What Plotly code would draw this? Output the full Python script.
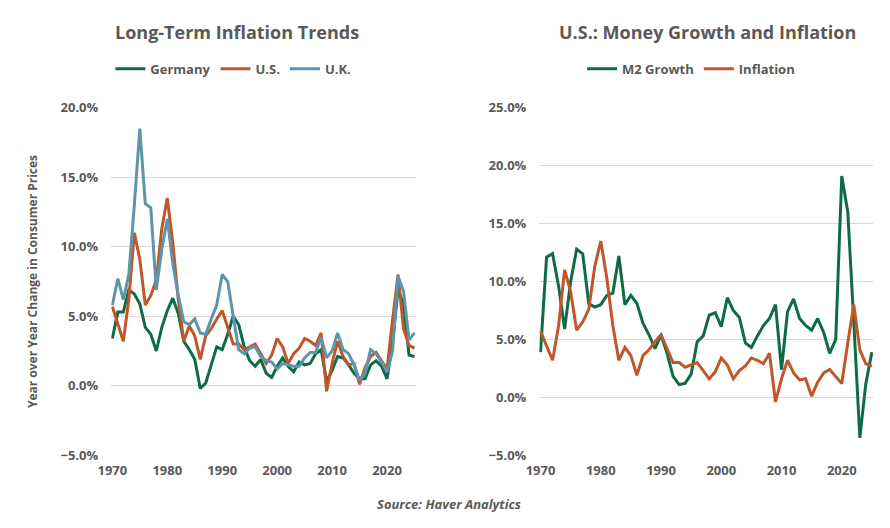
import plotly.graph_objects as go

years = list(range(1970, 2026))
germany = [3.4,5.3,5.3,6.9,6.6,5.9,4.2,3.7,2.5,4.2,5.4,6.3,5.2,3.2,2.6,1.9,-0.2,0.2,1.5,2.8,2.6,3.7,5.0,4.4,2.8,1.8,1.4,1.9,0.9,0.6,1.4,2.0,1.4,1.0,1.7,1.5,1.6,2.3,2.6,0.3,1.1,2.1,2.0,1.5,0.9,0.5,0.5,1.5,1.8,1.4,0.5,3.1,6.9,5.9,2.2,2.1]
us = [5.7,4.4,3.2,6.2,11.0,9.1,5.8,6.5,7.6,11.3,13.5,10.3,6.2,3.2,4.3,3.6,1.9,3.6,4.1,4.8,5.4,4.2,3.0,3.0,2.6,2.8,3.0,2.3,1.6,2.2,3.4,2.8,1.6,2.3,2.7,3.4,3.2,2.9,3.8,-0.4,1.6,3.2,2.1,1.5,1.6,0.1,1.3,2.1,2.4,1.8,1.2,4.7,8.0,4.1,2.9,2.7]
uk = [5.8,7.7,6.2,8.0,13.0,18.5,13.1,12.8,6.9,9.8,12.0,8.8,6.5,4.6,4.4,4.8,3.8,3.7,4.8,5.8,8.0,7.5,5.0,2.6,2.3,2.7,2.8,2.1,1.8,1.7,1.2,1.6,1.5,1.4,1.4,2.0,2.4,2.4,3.5,2.0,2.5,3.8,2.6,2.3,1.5,0.4,0.9,2.6,2.3,1.7,1.0,2.5,7.9,6.8,3.3,3.8]
m2 = [3.9,12.1,12.4,9.6,5.9,10.0,12.8,12.4,8.1,7.8,8.0,8.8,9.0,12.2,8.0,8.8,8.1,6.4,5.4,4.2,5.4,3.8,1.8,1.1,1.2,2.0,4.8,5.3,7.1,7.3,6.1,8.6,7.5,6.9,4.7,4.3,5.3,6.2,6.8,8.0,2.4,7.4,8.5,6.8,6.2,5.8,6.8,5.6,3.8,5.0,19.1,16.0,6.5,-3.5,1.2,3.9]

GREEN, ORANGE, BLUE = "#0f6b46", "#c0562a", "#5f95aa"
TXT = "#595959"
FONT = "Open Sans"

fig = go.Figure()
fig.add_trace(go.Scatter(x=years, y=[v/100 for v in germany], name="Germany", line=dict(color=GREEN, width=3), legend="legend"))
fig.add_trace(go.Scatter(x=years, y=[v/100 for v in us], name="U.S.", line=dict(color=ORANGE, width=3), legend="legend"))
fig.add_trace(go.Scatter(x=years, y=[v/100 for v in uk], name="U.K.", line=dict(color=BLUE, width=3), legend="legend"))
fig.add_trace(go.Scatter(x=years, y=[v/100 for v in m2], name="M2 Growth", line=dict(color=GREEN, width=3), xaxis="x2", yaxis="y2", legend="legend2"))
fig.add_trace(go.Scatter(x=years, y=[v/100 for v in us], name="Inflation", line=dict(color=ORANGE, width=3), xaxis="x2", yaxis="y2", legend="legend2"))

tf = dict(size=13, color=TXT, family=FONT, weight="bold")
ax = dict(range=[1969.8, 2025.2], tickvals=[1970,1980,1990,2000,2010,2020], showgrid=False, zeroline=False,
          tickfont=tf, ticks="", showline=False, automargin=False, ticklabelstandoff=6)
ay = dict(tickformat=".1%", gridcolor="#d9d9d9", zeroline=False, tickfont=tf, ticks="", automargin=False, ticklabelstandoff=12)
fig.update_layout(
    width=890, height=528, margin=dict(l=0, r=0, t=0, b=0),
    plot_bgcolor="white", paper_bgcolor="white", font=dict(family=FONT, color=TXT),
    xaxis=dict(ax, domain=[0.116, 0.458], anchor="y"),
    yaxis=dict(ay, domain=[0.153, 0.811], range=[-0.05, 0.20], dtick=0.05, anchor="x",
               title=dict(text="Year over Year Change in Consumer Prices", font=dict(size=12, color=TXT, weight="bold"), standoff=20)),
    xaxis2=dict(ax, domain=[0.597, 0.972], anchor="y2"),
    yaxis2=dict(ay, domain=[0.153, 0.811], range=[-0.05, 0.25], dtick=0.05, anchor="x2"),
    legend=dict(orientation="h", x=0.115, y=0.885, xanchor="left", yanchor="middle", font=dict(size=13, color=TXT, weight="bold"), itemwidth=30),
    legend2=dict(orientation="h", x=0.645, y=0.885, xanchor="left", yanchor="middle", font=dict(size=13, color=TXT, weight="bold"), itemwidth=30),
    showlegend=True,
    annotations=[
        dict(text="<b>Long-Term Inflation Trends</b>", x=0.118, y=0.955, xref="paper", yref="paper", xanchor="left", yanchor="middle", showarrow=False, font=dict(size=18, color=TXT)),
        dict(text="<b>U.S.: Money Growth and Inflation</b>", x=0.617, y=0.955, xref="paper", yref="paper", xanchor="left", yanchor="middle", showarrow=False, font=dict(size=18, color=TXT)),
        dict(text="<i>Source: Haver Analytics</i>", x=0.495, y=0.06, xref="paper", yref="paper", xanchor="center", yanchor="middle", showarrow=False, font=dict(size=13, color=TXT, weight="bold")),
    ],
)
fig.write_html("out.html")
